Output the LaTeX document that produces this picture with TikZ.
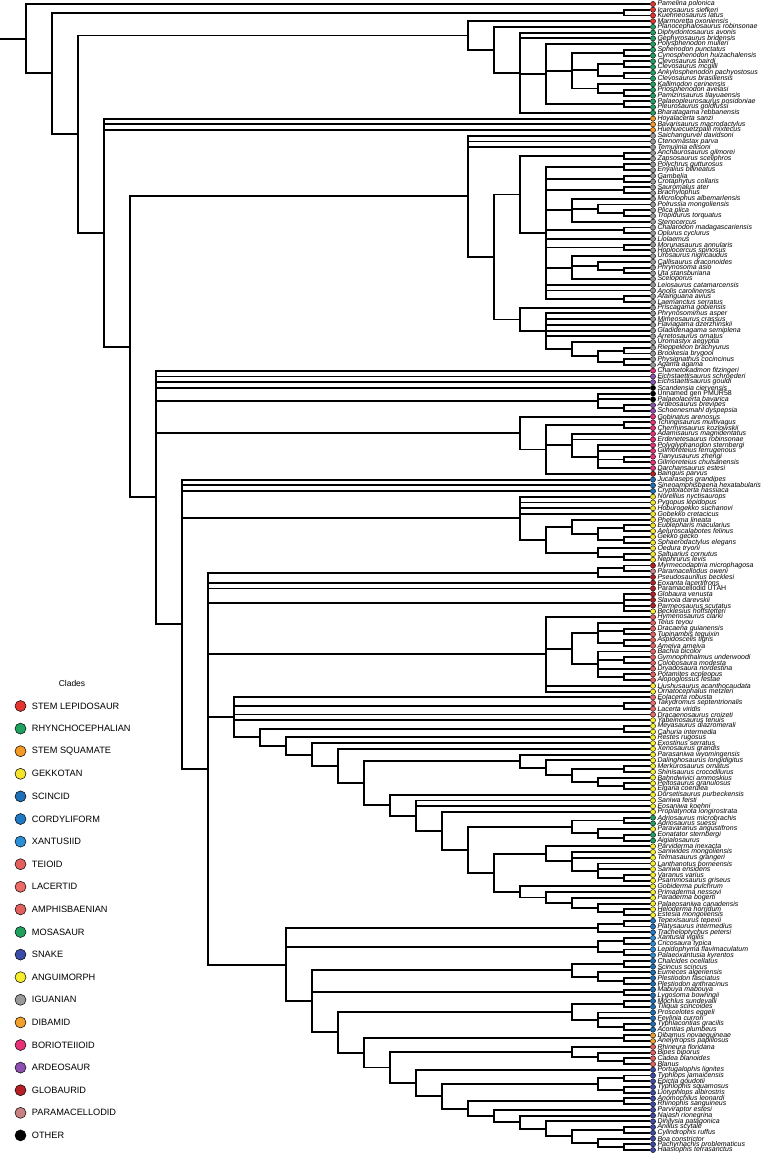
\documentclass[tikz,border=0pt]{standalone}
\usepackage{fontspec}
\setmainfont{Liberation Sans}
\usetikzlibrary{positioning,calc}

\definecolor{stemlep}{HTML}{E3342F}
\definecolor{rhyncho}{HTML}{1FA15F}
\definecolor{stemsq}{HTML}{F49A22}
\definecolor{gekko}{HTML}{F3E32C}
\definecolor{scinc}{HTML}{1D6FB8}
\definecolor{cordy}{HTML}{2079C4}
\definecolor{xantu}{HTML}{2B8FD8}
\definecolor{teioid}{HTML}{E4605E}
\definecolor{lacert}{HTML}{EC6A67}
\definecolor{amphis}{HTML}{E2605E}
\definecolor{mosa}{HTML}{1FA05F}
\definecolor{snake}{HTML}{3B4BA8}
\definecolor{angui}{HTML}{F6EE2A}
\definecolor{iguan}{HTML}{9A9A9A}
\definecolor{dibam}{HTML}{F1A02A}
\definecolor{borio}{HTML}{E8317B}
\definecolor{ardeo}{HTML}{8F4FB1}
\definecolor{globa}{HTML}{B42026}
\definecolor{param}{HTML}{C98181}
\definecolor{other}{HTML}{000000}

% a clade: name, children; x follows from its height above the tips
\newcommand\clade[2]{%
  \gdef\hmax{0}\gdef\cfirst{}%
  \foreach \c in {#2}{%
    \ifx\cfirst\empty\xdef\cfirst{\c}\fi
    \xdef\clast{\c}%
    \pgfmathparse{max(\hmax,\csname ht@\c\endcsname)}\xdef\hmax{\pgfmathresult}}%
  \pgfmathtruncatemacro\hnode{\hmax+1}%
  \expandafter\xdef\csname ht@#1\endcsname{\hnode}%
  \path let \p1=(\cfirst), \p2=(\clast) in
    coordinate (#1) at ({(650-26*\hnode)*1pt},{(\y1+\y2)/2});
  \foreach \c in {#2} {\draw[branch] (#1) |- (\c);}}

\begin{document}
\begin{tikzpicture}[x=1pt,y=-1pt,
  branch/.style={line width=1.9pt},
  tip/.style={circle,draw,line width=0.4pt,inner sep=0pt,minimum size=5.2pt},
  lab/.style={inner sep=0.4pt,font=\fontsize{7}{7}\selectfont\itshape},
  key/.style={circle,draw,line width=0.5pt,inner sep=0pt,minimum size=11pt},
  keylab/.style={inner sep=0pt,font=\fontsize{9.2}{10}\selectfont}]
\useasboundingbox (0,0) rectangle (762,1155);
\clip (0,0) rectangle (762,1155);

% tips
\foreach \nm/\cl [count=\i] in {Pamelina polonica/stemlep, Icarosaurus siefkeri/stemlep,
  Kuehneosaurus latus/stemlep, Marmoretta oxoniensis/stemlep,
  Planocephalosaurus robinsonae/rhyncho, Diphydontosaurus avonis/rhyncho,
  Gephyrosaurus bridensis/rhyncho, Polysphenodon mulleri/rhyncho, Sphenodon punctatus/rhyncho,
  Cynosphenodon huizachalensis/rhyncho, Clevosaurus bairdi/rhyncho, Clevosaurus mcgilli/rhyncho,
  Ankylosphenodon pachyostosus/rhyncho, Clevosaurus brasiliensis/rhyncho,
  Kallimodon cerinensis/rhyncho, Priosphenodon avelasi/rhyncho, Pamizinsaurus tlayuaensis/rhyncho,
  Palaeopleurosaurus posidoniae/rhyncho, Pleurosaurus goldfussi/rhyncho,
  Bharatagama rebbanensis/rhyncho, Hoyalacerta sanzi/stemsq, Bavarisaurus macrodactylus/stemsq,
  Huehuecuetzpalli mixtecus/stemsq, Saichangurvel davidsoni/iguan, Ctenomastax parva/iguan,
  Temujinia ellisoni/iguan, Anchaurosaurus gilmorei/iguan, Zapsosaurus sceliphros/iguan,
  Polychrus gutturosus/iguan, Enyalius bilineatus/iguan, Gambelia/iguan,
  Crotaphytus collaris/iguan, Sauromalus ater/iguan, Brachylophus/iguan,
  Microlophus albemarlensis/iguan, Polrussia mongoliensis/iguan, Plica plica/iguan,
  Tropidurus torquatus/iguan, Stenocercus/iguan, Chalarodon madagascariensis/iguan,
  Oplurus cyclurus/iguan, Liolaemus/iguan, Morunasaurus annularis/iguan,
  Hoplocercus spinosus/iguan, Urosaurus nigricaudus/iguan, Callisaurus draconoides/iguan,
  Phrynosoma asio/iguan, Uta stansburiana/iguan, Sceloporus/iguan,
  Leiosaurus catamarcensis/iguan, Anolis carolinensis/iguan, Afairiguana avius/iguan,
  Laemanctus serratus/iguan, Priscagama gobiensis/iguan, Phrynosomimus asper/iguan,
  Mimeosaurus crassus/iguan, Flaviagama dzerzhinskii/iguan, Gladidenagama semiplena/iguan,
  Arretosaurus ornatus/iguan, Uromastyx aegyptia/iguan, Rieppeleon brachyurus/iguan,
  Brookesia brygooi/iguan, Physignathus cocincinus/iguan, Agama agama/iguan,
  Chametokadmon fitzingeri/borio, Eichstaettisaurus schroederi/ardeo,
  Eichstaettisaurus gouldi/ardeo, Scandensia ciervensis/other,
  {\upshape Unnamed gen PMUR58}/other, Palaeolacerta bavarica/other,
  Ardeosaurus brevipes/ardeo, Schoenesmahl dyspepsia/ardeo, Gobinatus arenosus/borio,
  Tchingisaurus multivagus/borio, Cherminsaurus kozlowskii/borio,
  Adamisaurus magnidentatus/borio, Erdenetesaurus robinsonae/borio,
  Polyglyphanodon sternbergi/borio, Gilmoreteius ferrugenous/borio, Tianyusaurus zhengi/borio,
  Gilmoreteius chulsanensis/borio, Darchansaurus estesi/borio, Bainguis parvus/globa,
  Jucaraseps grandipes/scinc, Sineoamphisbaena hexatabularis/scinc,
  Cryptolacerta hassiaca/scinc, Norellius nyctisaurops/gekko, Pygopus lepidopus/gekko,
  Hoburogekko suchanovi/gekko, Gobekko cretacicus/gekko, Phelsuma lineata/gekko,
  Eublepharis macularius/gekko, Aeluroscalabotes felinus/gekko, Gekko gecko/gekko,
  Sphaerodactylus elegans/gekko, Oedura tryoni/gekko, Saltuarius cornutus/gekko,
  Nephrurus levis/gekko, Myrmecodaptria microphagosa/globa, Paramacellodus oweni/param,
  Pseudosaurillus becklesi/globa, Eoxanta lacertifrons/globa,
  {\upshape Paramacellodid UTAH}/globa, Globaura venusta/globa, Slavoia darevskii/globa,
  Parmeosaurus scutatus/globa, Becklesius hoffstetteri/angui, Hymenosaurus clarki/teioid,
  Teius teyou/teioid, Dracaena guianensis/teioid, Tupinambis teguixin/teioid,
  Aspidoscelis tigris/teioid, Ameiva ameiva/teioid, Bachia bicolor/teioid,
  Gymnophthalmus underwoodi/teioid, Colobosaura modesta/teioid,
  Dryadosaura nordestina/teioid, Potamites ecpleopus/teioid, Alopoglossus festae/teioid,
  Liushusaurus acanthocaudata/angui, Ornatocephalus metzleri/angui, Eolacerta robusta/lacert,
  Takydromus septentrionalis/lacert, Lacerta viridis/lacert, Dracaenosaurus croizeti/lacert,
  Yabeinosaurus tenuis/angui, Meyasaurus diazromerali/angui, Cahuria intermedia/angui,
  Restes rugosus/angui, Exostinus serratus/angui, Xenosaurus grandis/angui,
  Parasaniwa wyomingensis/angui, Dalinghosaurus longidigitus/angui,
  Merkurosaurus ornatus/angui, Shinisaurus crocodilurus/angui,
  Bahndwivici ammoskius/angui, Peltosaurus granulosus/angui, Elgaria coerulea/angui,
  Dorsetisaurus purbeckensis/angui, Saniwa feisti/angui, Eosaniwa koehni/angui,
  Proplatynota longirostrata/angui, Adriosaurus microbrachis/mosa, Adriosaurus suessi/mosa,
  Paravaranus angustifrons/angui, Eonatator sternbergi/mosa, Aigialosaurus/mosa,
  Parviderma inexacta/angui, Saniwides mongoliensis/angui, Telmasaurus grangeri/angui,
  Lanthanotus borneensis/angui, Saniwa ensidens/angui, Varanus varius/angui,
  Psammosaurus griseus/angui, Gobiderma pulchrum/angui, Primaderma nessovi/angui,
  Paraderma bogerti/angui, Palaeosaniwa canadensis/angui, Heloderma horridum/angui,
  Estesia mongoliensis/angui, Tepexisaurus tepexii/cordy, Platysaurus intermedius/cordy,
  Tracheloptychus petersi/cordy, Xantusia vigilis/xantu, Cricosaura typica/xantu,
  Lepidophyma flavimaculatum/xantu, Palaeoxantusia kyrentos/xantu,
  Chalcides ocellatus/scinc, Scincus scincus/scinc, Eumeces algeriensis/scinc,
  Plestiodon fasciatus/scinc, Plestiodon anthracinus/scinc, Mabuya mabouya/scinc,
  Lygosoma bowringii/scinc, Mochlus sundevalli/scinc, Tiliqua scincoides/scinc,
  Proscelotes eggeli/scinc, Feylinia currori/scinc, Typhlacontias gracilis/scinc,
  Acontias plumbeus/scinc, Dibamus novaeguineae/dibam, Anelytropsis papillosus/dibam,
  Rhineura floridana/amphis, Bipes biporus/amphis, Cadea blanoides/amphis, Blanus/amphis,
  Portugalophis lignites/snake, Typhlops jamaicensis/snake, Epictia goudotii/snake,
  Typhlophis squamosus/snake, Liotyphlops albirostris/snake, Anomochilus leonardi/snake,
  Rhinophis sanguineus/snake, Parviraptor estesi/snake, Najash rionegrina/snake,
  Dinilysia patagonica/snake, Anilius scytale/snake, Cylindrophis ruffus/snake,
  Boa constrictor/snake, Pachyrhachis problematicus/snake, Haasiophis terrasanctus/snake}{
  \node[tip, fill=\cl] (t\i) at (653,{4+(\i-1)*5.73}) {};
  \node[lab, right=1.1pt of t\i] {\nm};
  \expandafter\gdef\csname ht@t\i\endcsname{0}
}

% stem lepidosaurs and rhynchocephalians
\clade{b1}{t2,t3}
\clade{r9}{t9,t10}
\clade{r11}{t11,t12}
\clade{r13}{t13,t14}
\clade{r10}{r11,r13}
\clade{r15}{t16,t17}
\clade{r14}{t15,r15}
\clade{r8}{r9,r10,r14}
\clade{r18}{t18,t19}
\clade{r3}{t8,r8,r18}
\clade{r2}{t6,t7,r3,t20}
\clade{rh}{t5,r2}
\clade{lep}{t4,rh}

% iguanians
\clade{i8}{t27,t28}
\clade{p1}{t29,t30}
\clade{p2}{t31,t32}
\clade{p3}{t33,t34}
\clade{p4c}{t37,t38}
\clade{p4b}{t36,p4c}
\clade{p4}{t35,p4b,t39}
\clade{p5}{t40,t41}
\clade{p6}{t43,t44}
\clade{p7b}{t47,t48}
\clade{p7a}{t46,p7b}
\clade{p7}{t45,p7a,t49}
\clade{p8}{t52,t53}
\clade{pl}{p1,p2,p3,p4,p5,t42,p6,p7,t50,t51,p8}
\clade{pl0}{i8,pl}
\clade{a7a}{t61,t62}
\clade{a7b}{t63,t64}
\clade{a7}{a7a,a7b}
\clade{a6}{t60,a7}
\clade{a1}{t55,t56,t57,t58,t59,a6}
\clade{ac}{t54,a1}
\clade{i4}{pl0,ac}
\clade{ig}{t24,t25,t26,i4}

% ardeosaurs and borioteiioids
\clade{d5}{t71,t72}
\clade{d3}{t69,t70,d5}
\clade{o2}{t74,t75}
\clade{o5}{t80,t81}
\clade{o4}{t78,t79,o5,t82}
\clade{o3}{t76,t77,o4}
\clade{o1}{o2,o3,t83}
\clade{bor}{t73,o1}

% gekkotans
\clade{g5a}{t92,t93}
\clade{g5b}{t94,t95}
\clade{g5c}{g5a,g5b}
\clade{g5}{t91,g5c}
\clade{g6a}{t97,t98}
\clade{g6}{t96,g6a}
\clade{gc}{g5,g6}
\clade{gk}{t87,t88,t89,t90,gc}

% globaurids, teioids, lacertids
\clade{q0}{t99,t100}
\clade{q1}{q0,t101}
\clade{q4}{t104,t105,t106,t107}
\clade{e2a}{t110,t111}
\clade{e2b}{t112,t113}
\clade{e2}{t109,e2a,e2b}
\clade{e3b}{t115,t116}
\clade{e3d}{t118,t119}
\clade{e3}{t114,e3b,t117,e3d}
\clade{e1}{e2,e3}
\clade{te}{t108,e1,t120,t121}
\clade{la2}{t123,t124}

% anguimorphs
\clade{n1}{t127,t128}
\clade{x1f}{t137,t138}
\clade{x1e}{t136,x1f}
\clade{x1d}{t134,t135}
\clade{x1c}{x1d,x1e}
\clade{x1b}{t133,x1c}
\clade{x1}{t132,x1b}
\clade{m1}{t143,t144}
\clade{m2a}{t146,t147}
\clade{m2}{t145,m2a}
\clade{ms}{m1,m2}
\clade{va5}{t153,t154}
\clade{va3}{t151,t152,va5}
\clade{va1}{t149,t150,va3}
\clade{va}{t148,va1}
\clade{he4}{t159,t160}
\clade{he3}{t158,he4}
\clade{he2}{t157,he3}
\clade{he1}{t156,he2}
\clade{he}{t155,he1}
\clade{vh}{va,he}
\clade{x7}{ms,vh}
\clade{x6}{t142,x7}
\clade{x2b}{t140,t141,x6}
\clade{x2}{t139,x2b}
\clade{an1}{x1,x2}
\clade{n337}{t131,an1}
\clade{n311}{t130,n337}
\clade{n285a}{t129,n311}
\clade{n259}{n1,n285a}
\clade{n232}{t122,la2,t125,t126,n259}

% cordyliforms, xantusiids, scincids, dibamids, amphisbaenians, snakes
\clade{co1}{t161,t162}
\clade{co}{co1,t163}
\clade{xa1}{t164,t165}
\clade{xa2}{t166,t167}
\clade{xa}{xa1,xa2}
\clade{s1}{t168,t169}
\clade{s2a}{t171,t172}
\clade{s2}{t170,s2a}
\clade{sa}{s1,s2}
\clade{sb}{t173,t174}
\clade{s4}{t175,t176}
\clade{s6}{t179,t180}
\clade{s5}{t177,t178,s6}
\clade{sc5}{s4,s5}
\clade{dm}{t181,t182}
\clade{am2}{t185,t186}
\clade{am1}{t184,am2}
\clade{am}{t183,am1}
\clade{c1}{t188,t189}
\clade{c2}{t190,t191}
\clade{c0}{c1,c2}
\clade{k1}{t192,t193}
\clade{k7a}{t200,t201}
\clade{k7}{t199,k7a}
\clade{k6a}{t197,t198}
\clade{k6}{k6a,k7}
\clade{k5}{t196,k6}
\clade{k4}{t195,k5}
\clade{k3}{t194,k4}
\clade{k2}{k1,k3}
\clade{sn1}{c0,k2}
\clade{sn}{t187,sn1}
\clade{as}{am,sn}
\clade{das}{dm,as}
\clade{n337b}{sc5,das}
\clade{n311b}{sa,sb,n337b}
\clade{n285}{co,xa,n311b}

% backbone
\clade{n207}{q1,t102,t103,q4,te,n232,n285}
\clade{n181}{t84,t85,t86,gk,n207}
\clade{n156}{t65,t66,t67,t68,d3,bor,n181}
\clade{n129}{ig,n156}
\clade{n104}{t21,t22,t23,n129}
\clade{n78}{lep,n104}
\clade{n52}{b1,n78}
\clade{a}{t1,n52}
\path (a) ++(-26,0) coordinate (root);
\draw[branch] (root) -- (a);

% legend
\node[keylab, font=\fontsize{8.5}{10}\selectfont] (ttl) at (72,683) {Clades};
\foreach \nm/\cl [count=\i] in {STEM LEPIDOSAUR/stemlep, RHYNCHOCEPHALIAN/rhyncho,
  STEM SQUAMATE/stemsq, GEKKOTAN/gekko, SCINCID/scinc, CORDYLIFORM/cordy,
  XANTUSIID/xantu, TEIOID/teioid, LACERTID/lacert, AMPHISBAENIAN/amphis,
  MOSASAUR/mosa, SNAKE/snake, ANGUIMORPH/angui, IGUANIAN/iguan, DIBAMID/dibam,
  BORIOTEIIOID/borio, ARDEOSAUR/ardeo, GLOBAURID/globa, PARAMACELLODID/param, OTHER/other}{
  \node[key, fill=\cl] (k\i) at (20.5,{706+(\i-1)*22.6}) {};
  \node[keylab, right=5.5pt of k\i] {\nm};
}
\end{tikzpicture}
\end{document}
